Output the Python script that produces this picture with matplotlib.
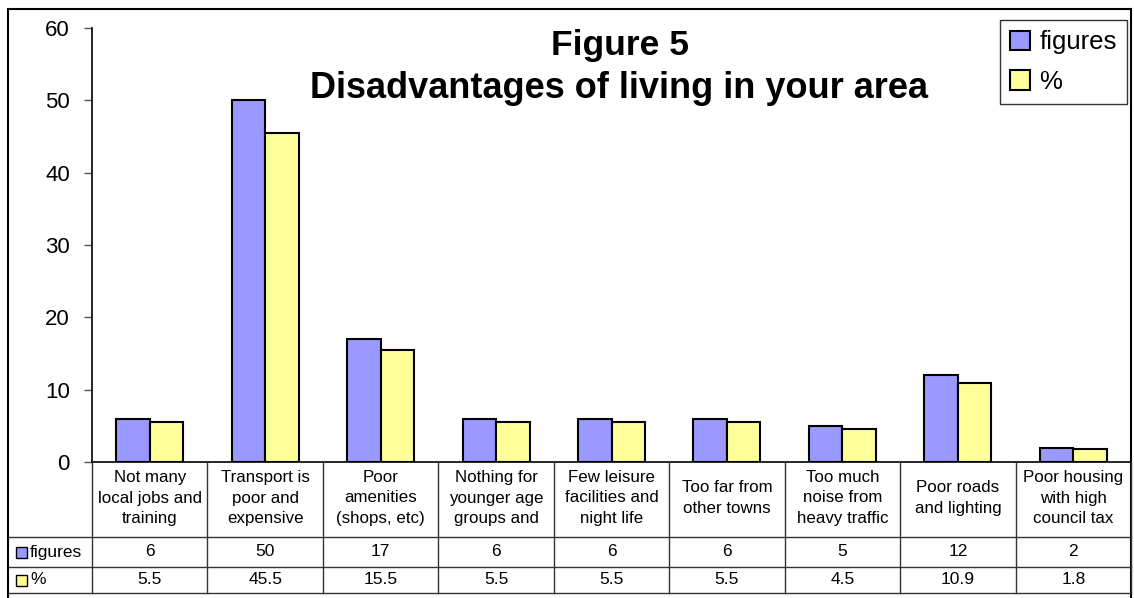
import matplotlib
matplotlib.use("Agg")
import matplotlib.pyplot as plt
from matplotlib.patches import Rectangle
from matplotlib.lines import Line2D
import matplotlib.transforms as mtrans
import numpy as np

plt.rcParams['font.family'] = ['Liberation Sans', 'DejaVu Sans']

categories = ["Not many\nlocal jobs and\ntraining",
              "Transport is\npoor and\nexpensive",
              "Poor\namenities\n(shops, etc)",
              "Nothing for\nyounger age\ngroups and",
              "Few leisure\nfacilities and\nnight life",
              "Too far from\nother towns",
              "Too much\nnoise from\nheavy traffic",
              "Poor roads\nand lighting",
              "Poor housing\nwith high\ncouncil tax"]
figures = [6, 50, 17, 6, 6, 6, 5, 12, 2]
percent = [5.5, 45.5, 15.5, 5.5, 5.5, 5.5, 4.5, 10.9, 1.8]
figures_txt = ["6", "50", "17", "6", "6", "6", "5", "12", "2"]
percent_txt = ["5.5", "45.5", "15.5", "5.5", "5.5", "5.5", "4.5", "10.9", "1.8"]
series_names = ["figures", "%"]
yticks = [0, 10, 20, 30, 40, 50, 60]

BLUE = "#9999FF"
YELLOW = "#FFFF99"

W, H = 1134, 598
fig = plt.figure(figsize=(W / 100, H / 100), dpi=100)

def fx(x):
    return x / W

def fy(y):
    return 1 - y / H

ax_l, ax_r, ax_t, ax_b = 92, 1131, 28, 462
ax = fig.add_axes([fx(ax_l), fy(ax_b), fx(ax_r - ax_l), (ax_b - ax_t) / H])

n = len(categories)
x = np.arange(n)
bw = 0.29
ax.bar(x - bw / 2, figures, bw, color=BLUE, edgecolor="black", linewidth=1.5, label=series_names[0], zorder=3)
ax.bar(x + bw / 2, percent, bw, color=YELLOW, edgecolor="black", linewidth=1.5, label=series_names[1], zorder=3)

ax.set_xlim(-0.5, n - 0.5)
ax.set_ylim(0, 60)
ax.set_yticks(yticks)
ax.set_yticklabels([str(v) for v in yticks], fontsize=16)
ax.set_xticks([])
for s in ["top", "right"]:
    ax.spines[s].set_visible(False)
ax.spines["left"].set_linewidth(1.2)
ax.spines["bottom"].set_linewidth(1.2)
ax.tick_params(axis="y", length=6, width=1, color="#555555", pad=10)

# title
fig.text(fx(620), fy(45), "Figure 5", ha="center", va="center", fontsize=25.5, fontweight="bold")
fig.text(fx(619), fy(89), "Disadvantages of living in your area", ha="center", va="center",
         fontsize=26, fontweight="bold")

# legend
leg = fig.legend(loc="upper right", bbox_to_anchor=(fx(1127), fy(20)), fontsize=18.5,
                 frameon=True, fancybox=False, edgecolor="black", handlelength=0.8,
                 handleheight=0.8, handletextpad=0.35, borderpad=0.4, labelspacing=0.62,
                 borderaxespad=0)
leg.get_frame().set_linewidth(1.0)

# outer border
fig.patches.append(Rectangle((fx(8), fy(600)), fx(1131 - 8), (600 - 9) / H,
                             transform=fig.transFigure, fill=False, edgecolor="black",
                             linewidth=1.5))

# data table
bt = mtrans.blended_transform_factory(ax.transData, fig.transFigure)
row_y = [462, 537, 567, 593]
lc = "#333333"
for yy in row_y[1:]:
    fig.lines.append(Line2D([fx(9), fx(ax_r)], [fy(yy), fy(yy)], transform=fig.transFigure,
                            color=lc, linewidth=1.0))
for k in range(n + 1):
    xx = k - 0.5
    fig.lines.append(Line2D([xx, xx], [fy(462), fy(593)], transform=bt, color=lc, linewidth=1.0))
for i in range(n):
    fig.text(i, fy(498), categories[i], transform=bt, ha="center", va="center",
             fontsize=12.2, linespacing=1.45)
    fig.text(i, fy(552), figures_txt[i], transform=bt, ha="center", va="center", fontsize=12.5)
    fig.text(i, fy(580), percent_txt[i], transform=bt, ha="center", va="center", fontsize=12.5)

for j, (name, col) in enumerate(zip(series_names, [BLUE, YELLOW])):
    yc = [552, 580][j]
    fig.patches.append(Rectangle((fx(16), fy(yc + 6)), fx(11), 11 / H, transform=fig.transFigure,
                                 facecolor=col, edgecolor="black", linewidth=1.0))
    fig.text(fx(30), fy(yc), name, ha="left", va="center", fontsize=12.5)

fig.savefig("out.png", dpi=100)
